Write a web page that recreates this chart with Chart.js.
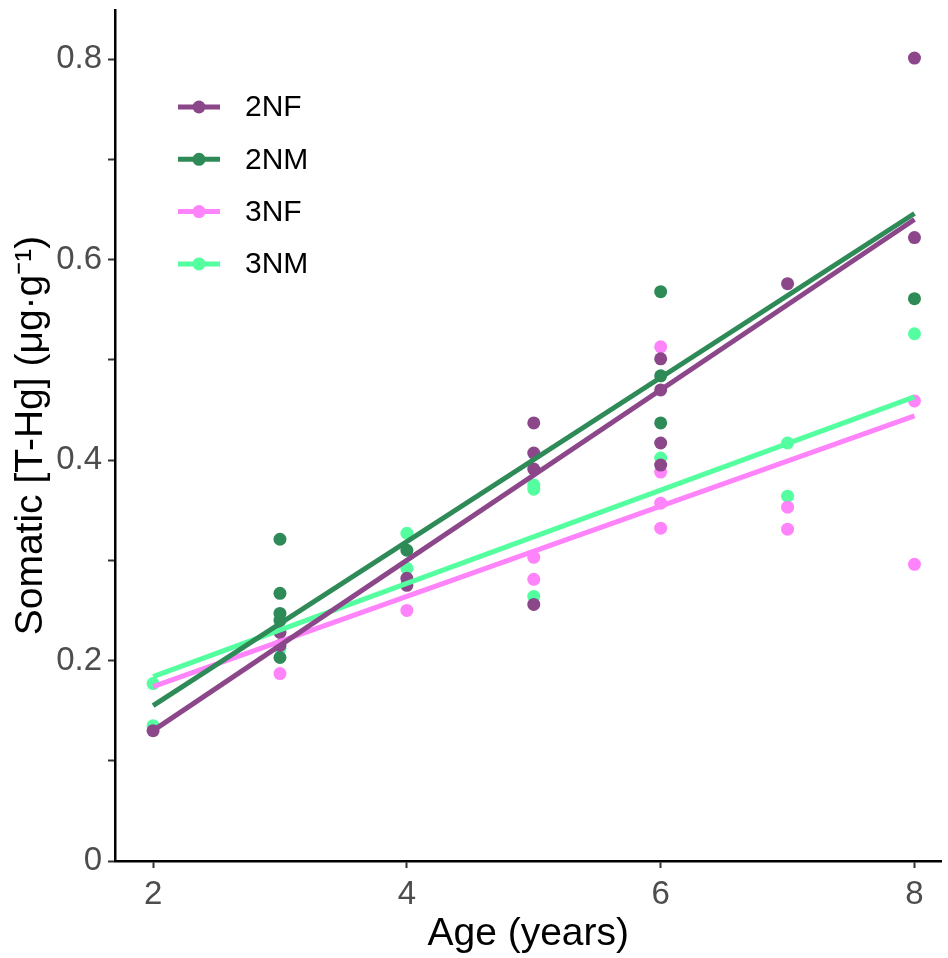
<!DOCTYPE html>
<html>
<head>
<meta charset="utf-8">
<title>Somatic T-Hg by age</title>
<script src="https://cdn.jsdelivr.net/npm/chart.js@4/dist/chart.umd.min.js"></script>
<style>
  html, body { margin: 0; padding: 0; background: #fff; overflow: hidden; }
  #wrap { width: 948px; height: 958px; position: relative; }
  canvas { display: block; }
</style>
</head>
<body>
<div id="wrap"><canvas id="chart" width="948" height="958"></canvas></div>
<script>
// ---- data ----
const groups = ["2NF", "2NM", "3NF", "3NM"];
const colors = ["#8B4789", "#2E8B57", "#FF83FA", "#54FF9F"];

const age2NF = [2, 3, 3, 4, 4, 5, 5, 5, 5, 6, 6, 6, 6, 7, 8, 8];
const hg2NF  = [0.130, 0.228, 0.215, 0.282, 0.275, 0.437, 0.407, 0.391, 0.256, 0.501, 0.470, 0.417, 0.395, 0.576, 0.801, 0.622];

const age2NM = [3, 3, 3, 3, 3, 4, 6, 6, 6, 8];
const hg2NM  = [0.321, 0.267, 0.247, 0.240, 0.203, 0.310, 0.568, 0.484, 0.437, 0.561];

const age3NF = [3, 4, 5, 5, 6, 6, 6, 6, 7, 7, 8, 8];
const hg3NF  = [0.187, 0.250, 0.303, 0.281, 0.513, 0.388, 0.357, 0.332, 0.353, 0.331, 0.459, 0.296];

const age3NM = [2, 2, 3, 4, 4, 5, 5, 5, 6, 7, 7, 8];
const hg3NM  = [0.177, 0.135, 0.212, 0.327, 0.292, 0.375, 0.371, 0.264, 0.402, 0.417, 0.364, 0.526];

// fitted lines, value at age 2 and age 8
const fitAges = [2, 8];
const fit2NF = [0.130, 0.640];
const fit2NM = [0.155, 0.646];
const fit3NF = [0.174, 0.444];
const fit3NM = [0.184, 0.463];

const xTicks = [2, 4, 6, 8];
const yTicks = [0, 0.1, 0.2, 0.3, 0.4, 0.5, 0.6, 0.7, 0.8];
const yLabels = ["0", "", "0.2", "", "0.4", "", "0.6", "", "0.8"];

const FONT = "'Liberation Sans', Arial, Helvetica, sans-serif";

const pts = (xs, ys) => xs.map((x, i) => ({ x: x, y: ys[i] }));

const pointSets = [[age2NF, hg2NF], [age2NM, hg2NM], [age3NF, hg3NF], [age3NM, hg3NM]];
const fitSets = [fit2NF, fit2NM, fit3NF, fit3NM];

const datasets = [];
groups.forEach((g, i) => {
    datasets.push({
        label: g,
        data: pts(pointSets[i][0], pointSets[i][1]),
        backgroundColor: colors[i],
        borderColor: colors[i],
        pointRadius: 6.5,
        pointBorderWidth: 0,
        showLine: false,
        order: 2,
    });
});
groups.forEach((g, i) => {
    datasets.push({
        label: g + " fit",
        data: pts(fitAges, fitSets[i]),
        borderColor: colors[i],
        backgroundColor: colors[i],
        borderWidth: 5,
        pointRadius: 0,
        showLine: true,
        order: 1,
    });
});

/** --------------- legend drawn inside the panel ---------------- */
const insideLegend = {
    id: "insideLegend",
    afterDraw(chart) {
        const ctx = chart.ctx;
        ctx.save();
        groups.forEach((g, i) => {
            const y = 107 + i * 52.3;
            ctx.strokeStyle = colors[i];
            ctx.lineWidth = 5;
            ctx.beginPath();
            ctx.moveTo(178, y);
            ctx.lineTo(220, y);
            ctx.stroke();
            ctx.fillStyle = colors[i];
            ctx.beginPath();
            ctx.arc(199, y, 6.5, 0, Math.PI * 2);
            ctx.fill();
            ctx.fillStyle = "#000";
            ctx.font = "30px " + FONT;
            ctx.textBaseline = "middle";
            ctx.textAlign = "left";
            ctx.fillText(g, 245, y + 1);
        });
        ctx.restore();
    },
};

const noEdgePad = s => {
    s.paddingTop = 0;
    s.paddingBottom = 0;
    s.paddingLeft = 0;
    s.paddingRight = 0;
};

new Chart(document.getElementById("chart"), {
    type: "scatter",
    data: { datasets: datasets },
    plugins: [insideLegend],
    options: {
        responsive: false,
        animation: false,
        layout: { padding: { top: 10, right: 0, left: 0, bottom: 0 } },
        plugins: {
            legend: { display: false },
            tooltip: { enabled: false },
        },
        scales: {
            x: {
                type: "linear",
                min: 1.7,
                max: 8.213,
                afterFit: s => { s.height = 97; noEdgePad(s); },
                afterBuildTicks: s => { s.ticks = xTicks.map(v => ({ value: v })); },
                ticks: {
                    color: "#4D4D4D",
                    font: { family: FONT, size: 33 },
                    padding: 7,
                    callback: v => String(v),
                },
                grid: { display: true, drawOnChartArea: false, drawTicks: true, tickLength: 7, tickWidth: 2, tickColor: "#333" },
                border: { display: true, color: "#000", width: 2.5 },
                title: {
                    display: true,
                    text: "Age (years)",
                    color: "#000",
                    font: { family: FONT, size: 39 },
                    padding: { top: 0, bottom: 0 },
                },
            },
            y: {
                type: "linear",
                min: 0,
                max: 0.849,
                afterFit: s => { s.width = 115; noEdgePad(s); },
                afterBuildTicks: s => { s.ticks = yTicks.map(v => ({ value: v })); },
                ticks: {
                    color: "#4D4D4D",
                    font: { family: FONT, size: 33 },
                    padding: 6,
                    callback: (v, i) => yLabels[i],
                },
                grid: { display: true, drawOnChartArea: false, drawTicks: true, tickLength: 7, tickWidth: 2, tickColor: "#333" },
                border: { display: true, color: "#000", width: 2.5 },
                title: {
                    display: true,
                    text: "Somatic [T-Hg] (μg·g⁻¹)",
                    color: "#000",
                    font: { family: FONT, size: 39 },
                    padding: { top: 8, bottom: 0 },
                },
            },
        },
    },
});
</script>
</body>
</html>
